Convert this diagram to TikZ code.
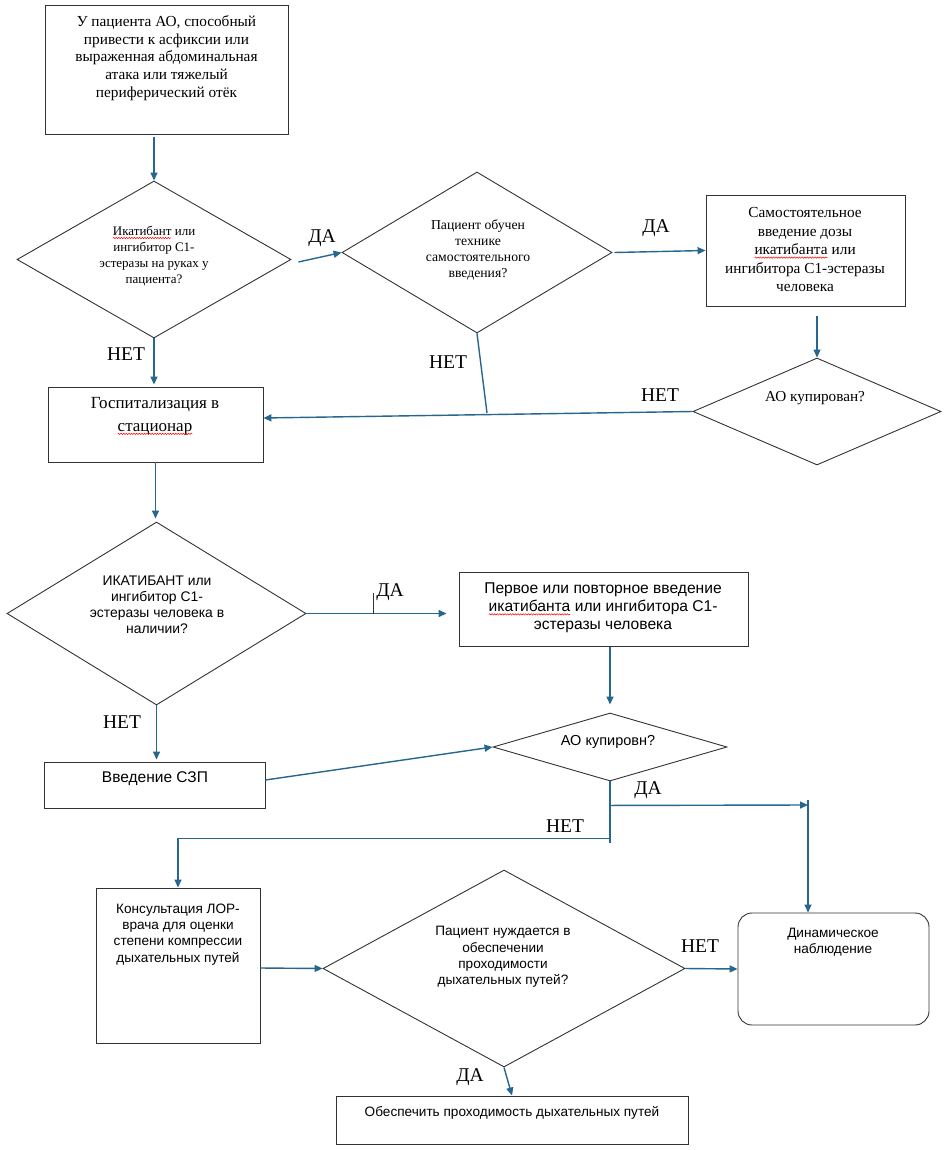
\documentclass[tikz,border=0pt]{standalone}
\usepackage{fontspec}
\setmainfont{Liberation Serif}
\newfontfamily\sansf{Liberation Sans}
\usetikzlibrary{shapes.geometric,arrows.meta,decorations.pathmorphing}
\definecolor{linkblue}{HTML}{27678F}
% red wavy underline of the spell checker
\newcommand\spellerr[1]{\tikz[baseline=(sp.base)]{\node[inner sep=0pt, outer sep=0pt] (sp) {#1};
  \draw[red, line width=0.5pt, decorate, decoration={snake, amplitude=0.7pt, segment length=2.6pt}]
    ([yshift=-2.6pt]sp.base west) -- ([yshift=-2.6pt]sp.base east);}}
\tikzset{
  box/.style={draw=black!80, line width=0.9pt, inner sep=0pt},
  decision/.style={draw=black!80, line width=0.9pt, diamond, inner sep=0pt, shape aspect=1.7},
  link/.style={draw=linkblue, line width=1.4pt, -{Triangle[length=8pt,width=7pt]}},
  plain/.style={draw=linkblue, line width=1.4pt},
  serif/.style={align=center, inner sep=0pt, font=\rmfamily\fontsize{13}{16}\selectfont},
  sans/.style={align=center, inner sep=0pt, font=\sansf\fontsize{13.9}{16}\selectfont},
  small/.style={align=center, inner sep=0pt, font=\sansf\fontsize{13.6}{16.3}\selectfont},
  answer/.style={inner sep=0pt, font=\rmfamily\fontsize{19.5}{22}\selectfont},
}
\begin{document}
\begin{tikzpicture}[x=1pt,y=-1pt]
  \useasboundingbox[fill=white] (0,0) rectangle (952,1150);

  % shapes
  \node[box, minimum width=243pt, minimum height=129pt] (start) at (166.5,69.5) {};
  \node[decision, minimum width=274pt, minimum height=157pt] (d1) at (154,259.5) {};
  \node[decision, minimum width=270pt, minimum height=161pt] (d2) at (477,252.5) {};
  \node[box, minimum width=199pt, minimum height=111pt] (self) at (805.5,250.5) {};
  \node[decision, minimum width=248pt, minimum height=107pt] (d3) at (817,411.5) {};
  \node[box, minimum width=215pt, minimum height=75pt] (hosp) at (155.5,424.5) {};
  \node[decision, minimum width=299pt, minimum height=183pt] (d4) at (156.5,613.5) {};
  \node[box, minimum width=289pt, minimum height=74pt] (first) at (603.5,609) {};
  \node[decision, minimum width=234pt, minimum height=68pt] (d5) at (610,747) {};
  \node[box, minimum width=221pt, minimum height=46pt] (szp) at (154.5,785) {};
  \node[box, minimum width=164pt, minimum height=155pt] (lor) at (178,965.5) {};
  \node[decision, minimum width=362pt, minimum height=197pt] (d6) at (504,968.5) {};
  \node[box, rounded corners=14pt, minimum width=191pt, minimum height=112pt] (dyn) at (833.5,969) {};
  \node[box, minimum width=352pt, minimum height=48pt] (air) at (512,1120) {};

  % texts
  \node[serif, font=\rmfamily\fontsize{15.3}{17.6}\selectfont] (t-start) at (166.5,58) {У пациента АО, способный\\привести к асфиксии или\\выраженная абдоминальная\\атака или тяжелый\\периферический отёк};
  \node[serif] (t-d1) at (154,256) {\spellerr{Икатибант} или\\ингибитор С1-\\эстеразы на руках у\\пациента?};
  \node[serif, font=\rmfamily\fontsize{13.7}{16}\selectfont] (t-d2) at (478,250) {Пациент обучен\\технике\\самостоятельного\\введения?};
  \node[serif, font=\rmfamily\fontsize{15.3}{18.5}\selectfont] (t-self) at (805,250) {Самостоятельное\\введение дозы\\\spellerr{икатибанта} или\\ингибитора С1-эстеразы\\человека};
  \node[serif, font=\rmfamily\fontsize{15.2}{17}\selectfont] (t-d3) at (815,398) {АО купирован?};
  \node[serif, font=\rmfamily\fontsize{17}{23}\selectfont] (t-hosp) at (155,416) {Госпитализация в\\\spellerr{стационар}};
  \node[sans] (t-d4) at (157,605) {ИКАТИБАНТ или\\ингибитор С1-\\эстеразы человека в\\наличии?};
  \node[sans, font=\sansf\fontsize{15.6}{18}\selectfont] (t-first) at (603,608) {Первое или повторное введение\\\spellerr{икатибанта} или ингибитора С1-\\эстеразы человека};
  \node[sans, font=\sansf\fontsize{14.5}{17}\selectfont] (t-d5) at (608,742) {АО купировн?};
  \node[sans, font=\sansf\fontsize{15.5}{18}\selectfont] (t-szp) at (155,779) {Введение СЗП};
  \node[small] (t-lor) at (178,934.5) {Консультация ЛОР-\\врача для оценки\\степени компрессии\\дыхательных путей};
  \node[small] (t-d6) at (503,957) {Пациент нуждается в\\обеспечении\\проходимости\\дыхательных путей?};
  \node[small] (t-dyn) at (833,942) {Динамическое\\наблюдение};
  \node[small] (t-air) at (512,1113) {Обеспечить проходимость дыхательных путей};

  % answers
  \node[answer] (a1) at (322,238) {ДА};
  \node[answer] (a2) at (656,228) {ДА};
  \node[answer] (a3) at (126,354) {НЕТ};
  \node[answer] (a4) at (448,362) {НЕТ};
  \node[answer] (a5) at (660,395) {НЕТ};
  \node[answer] (a6) at (390,592) {ДА};
  \node[answer] (a7) at (122,722) {НЕТ};
  \node[answer] (a8) at (648,790) {ДА};
  \node[answer] (a9) at (565,826) {НЕТ};
  \node[answer] (a10) at (700,946) {НЕТ};
  \node[answer] (a11) at (470,1077) {ДА};

  % connectors
  \coordinate (j1) at (487,413);
  \coordinate (tick) at (373,614);
  \coordinate (j2) at ([yshift=-24pt]d5.south);
  \coordinate (j3) at ([yshift=-57pt]d5.south);
  \coordinate (k) at (808,805);

  \draw[link, shorten <=3pt] (d1.north |- start.south) -- (d1.north);
  \draw[link] ([shift={(7,2.5)}]d1.east) -- (d2.west);
  \draw[link] ([xshift=2pt]d2.east) -- (self.west);
  \draw[link, shorten <=10pt] (self.south -| d3.north) -- (d3.north);
  \draw[link] (d3.west) -- ([yshift=6.5pt]hosp.east);
  \draw[plain] (d2.south) -- (j1);
  \draw[link, shorten >=2pt] (d1.south) -- (d1.south |- hosp.north);
  \draw[link, shorten >=3pt] (hosp.south) -- (hosp.south |- d4.north);
  \draw[link, shorten >=12pt] (d4.east) -- (d4.east -| first.west);
  \draw[black!80, line width=1pt] (tick) -- ++(0,-21);
  \draw[link, shorten <=1pt, shorten >=8pt] (first.south -| d5.north) -- (d5.north);
  \draw[link] ([yshift=5pt]szp.east) -- (d5.west);
  \draw[link, shorten >=2pt] (d4.south) -- (d4.south |- szp.north);
  \draw[plain] (d5.south) -- ++(0,62);
  \draw[link] (j2) -- (k);
  \draw[link] ([yshift=5pt]k) -- (k |- dyn.north);
  \draw[link] (j3) -| (lor.north);
  \draw[link] ([yshift=-2.5pt]lor.east) -- (d6.west);
  \draw[link] (d6.east) -- (dyn.west);
  \draw[link] (d6.south) -- (air.north);
\end{tikzpicture}
\end{document}
